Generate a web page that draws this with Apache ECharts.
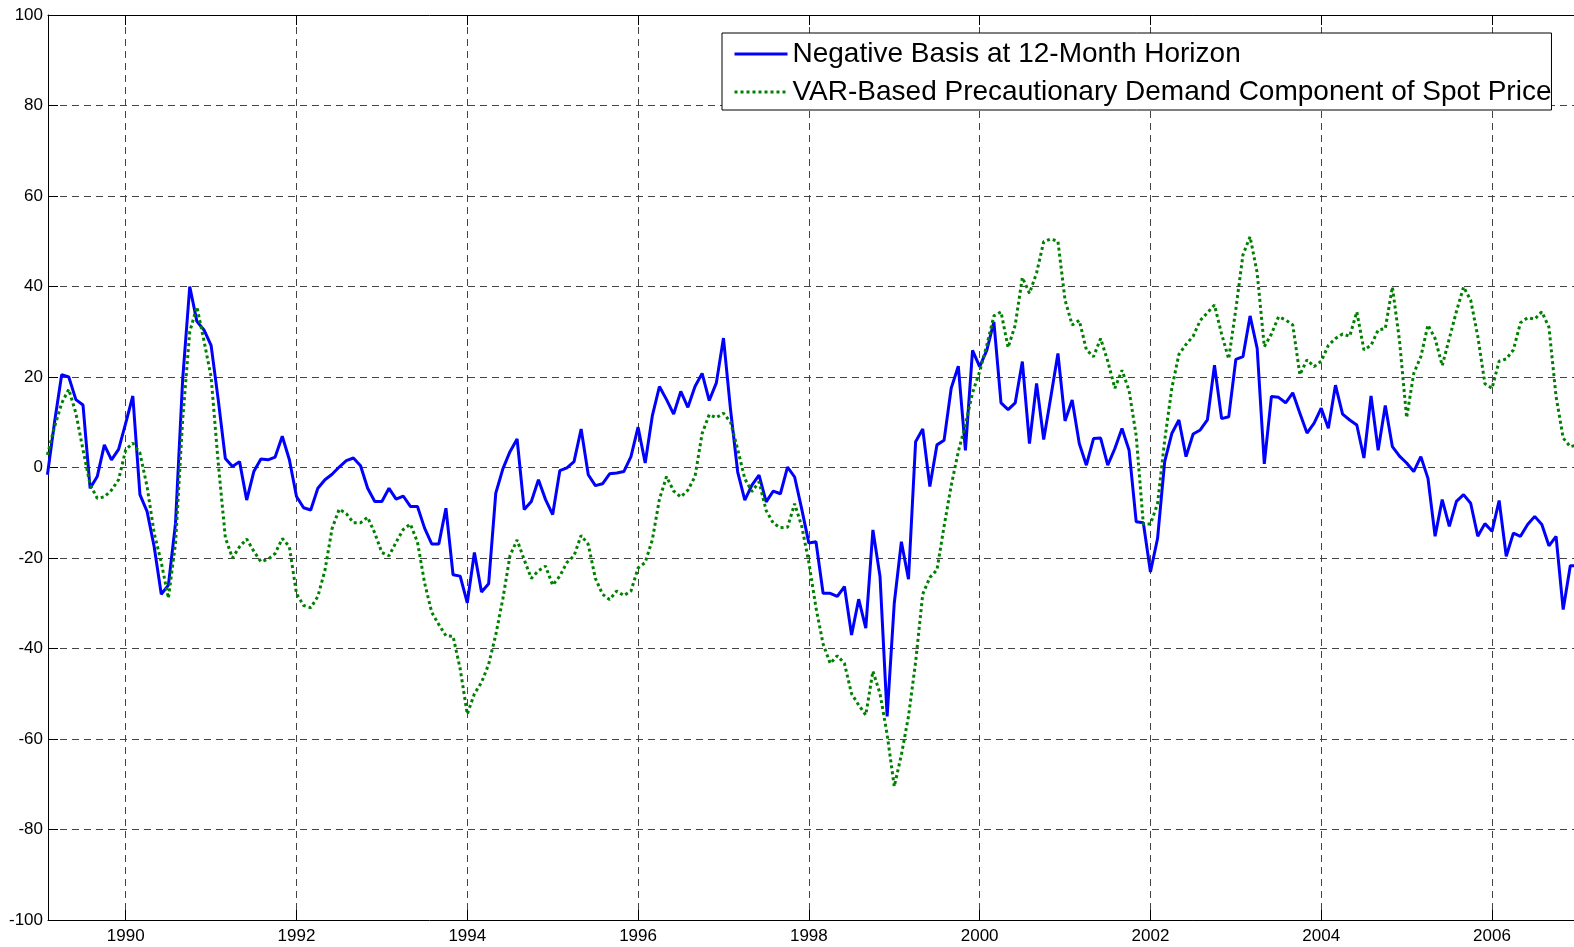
<!doctype html>
<html>
    <head>
        <meta charset="utf-8">
        <title>Negative Basis vs Precautionary Demand</title>
        <style>
            html, body { margin: 0; padding: 0; background: #fff; }
            #main { width: 1574px; height: 947px; }
        </style>
    </head>
    <body>
        <div id="main"></div>
        <script src="https://cdn.jsdelivr.net/npm/echarts@6/dist/echarts.min.js"></script>
        <script>
            // monthly observations, first one is Feb 1989
            var startYear = 1989;
            var startMonth = 2;

            var yearTicks = [1990, 1992, 1994, 1996, 1998, 2000, 2002, 2004, 2006];
            var seriesNames = [
                'Negative Basis at 12-Month Horizon',
                'VAR-Based Precautionary Demand Component of Spot Price'
            ];

            var basis = [
                -1.6, 10, 20.5, 20, 15, 13.8, -4.6, -2, 5, 1.7, 4, 9.8,
                15.8, -6, -9.7, -17.5, -28, -26, -12.3, 19.4, 40, 32.3, 30.4, 27,
                15, 2, 0.2, 1.3, -7.2, -0.9, 1.9, 1.7, 2.3, 6.9, 1.7, -6.4,
                -8.9, -9.4, -4.6, -2.7, -1.5, 0.1, 1.5, 2.1, 0.4, -4.6, -7.5, -7.5,
                -4.6, -7, -6.3, -8.6, -8.6, -13.4, -16.9, -16.9, -9, -23.7, -24, -29.9,
                -18.8, -27.5, -25.7, -5.7, -0.3, 3.5, 6.3, -9.3, -7.5, -2.7, -7.1, -10.4,
                -0.7, -0.1, 1.3, 8.5, -1.6, -4, -3.6, -1.4, -1.2, -0.9, 2.4, 8.9,
                1, 11.4, 17.9, 15, 11.8, 16.8, 13.3, 17.9, 20.8, 14.8, 18.7, 28.6,
                12.7, -1, -7.2, -3.9, -1.7, -7.6, -5.2, -5.8, 0.1, -2.1, -9.2, -16.7,
                -16.4, -27.8, -27.8, -28.5, -26.3, -37, -29.1, -35.5, -13.8, -24.1, -55, -30,
                -16.4, -24.7, 5.7, 8.5, -4.2, 5, 6, 17.5, 22.4, 3.8, 25.9, 22.3,
                25.9, 32.2, 14.3, 12.8, 14.3, 23.4, 5.3, 18.6, 6.2, 15.6, 25.2, 10.3,
                14.9, 5.3, 0.5, 6.4, 6.5, 0.5, 4.2, 8.6, 3.8, -12, -12.2, -23.1,
                -15.7, 1.3, 7.5, 10.5, 2.4, 7.4, 8.3, 10.5, 22.6, 10.8, 11.2, 23.9,
                24.5, 33.5, 26.3, 0.8, 15.7, 15.5, 14.3, 16.5, 12, 7.6, 9.8, 13.1,
                8.7, 18.2, 11.8, 10.5, 9.4, 2.1, 15.8, 3.8, 13.7, 4.6, 2.5, 1,
                -0.9, 2.4, -2.4, -15.2, -7.1, -13, -7.5, -6, -7.9, -15.2, -12.4, -14.1,
                -7.3, -19.6, -14.5, -15.2, -12.6, -10.8, -12.6, -17.3, -15.2, -31.4, -21.7, -21.7
            ];

            var precautionary = [
                2.8, 9, 14.2, 17.3, 12, 3.9, -3.8, -6.8, -6.5, -5, -2.7, 3.9,
                5.4, 3.2, -4.2, -14.5, -21, -28.9, -16.7, 10.5, 30, 35.5, 28, 20,
                1, -15.5, -20, -17.5, -15.8, -18.5, -20.8, -20.3, -19, -15.7, -17.5, -27.9,
                -30.5, -31, -28.5, -22.7, -13.5, -9.2, -10.2, -12.2, -12.2, -11, -14.5, -18.8,
                -19.5, -16.5, -13.7, -12.5, -16.5, -25.5, -32, -34.7, -37.2, -37.3, -44.5, -54.5,
                -50, -47.5, -43.5, -37, -29, -19.5, -16, -20.4, -24.5, -22.8, -21.8, -26,
                -24, -21, -19.5, -15, -17, -24.5, -28, -29.2, -27.3, -28.3, -27.3, -22.2,
                -21, -16, -7, -2, -5.2, -6.5, -5, -2, 7.5, 11.7, 11, 12,
                10, 4, -2.5, -5.3, -3.2, -9.5, -12.3, -13.3, -13.2, -8, -13, -21,
                -31, -39, -43.3, -41.6, -43.3, -50, -52.5, -54.7, -45, -50, -59, -70.5,
                -63.5, -55, -43, -28, -24.3, -22.6, -13, -4, 3.5, 9.5, 16.5, 21.2,
                27, 33.5, 34.4, 26.5, 31.5, 42, 38.5, 43, 49.9, 50.5, 50, 37,
                31.5, 32.5, 26, 24.5, 28.5, 23.5, 17.5, 21.5, 17, 7, -12.5, -12.5,
                -8, 6, 17.5, 25, 27.2, 29, 32.5, 34.2, 35.9, 29.5, 24, 35,
                47, 51, 43, 26.7, 29.5, 33.3, 32.6, 31.5, 20.5, 23.8, 22.3, 23.5,
                27, 28.5, 29.5, 29, 34.4, 26, 27, 30.4, 30.7, 39.9, 28, 11,
                20.8, 24.5, 31.5, 28.5, 22.5, 28.5, 34.5, 39.9, 37, 29, 18.5, 17.5,
                23.5, 24, 26, 32, 33.1, 32.8, 34.4, 31, 15.7, 6.5, 4.6, 5
            ];

            function withDates(values) {
                return values.map(function (v, i) {
                    return [startYear + (startMonth - 1 + i) / 12, v];
                });
            }

            var chart = echarts.init(document.getElementById('main'));

            var labelFont = {
                fontFamily: 'Liberation Sans, Arial, sans-serif',
                fontSize: 17,
                color: '#000'
            };
            var gridLine = {
                show: true,
                lineStyle: { color: '#444', width: 1, type: [7, 5] }
            };

            chart.setOption({
                animation: false,
                backgroundColor: '#fff',
                grid: { left: 48, right: 0, top: 15, bottom: 27 },
                legend: {
                    left: 722,
                    top: 33,
                    orient: 'vertical',
                    backgroundColor: '#fff',
                    borderColor: '#000',
                    borderWidth: 1,
                    borderRadius: 0,
                    padding: [6, 0, 3, 11],
                    itemGap: 8,
                    itemWidth: 53,
                    itemHeight: 14,
                    itemStyle: { opacity: 0 },
                    lineStyle: { width: 3 },
                    textStyle: {
                        fontFamily: 'Liberation Sans, Arial, sans-serif',
                        fontSize: 28,
                        lineHeight: 30,
                        color: '#000'
                    },
                    data: seriesNames
                },
                xAxis: [{
                    type: 'value',
                    min: 1989.09,
                    max: 2006.96,
                    axisLine: { show: true, onZero: false, lineStyle: { color: '#000', width: 1 } },
                    axisTick: {
                        show: true, inside: true, length: 10,
                        customValues: yearTicks,
                        lineStyle: { color: '#000' }
                    },
                    axisLabel: Object.assign({
                        margin: 8,
                        customValues: yearTicks,
                        formatter: function (v) { return String(Math.round(v)); }
                    }, labelFont),
                    splitLine: gridLine
                }, {
                    type: 'value',
                    position: 'top',
                    min: 1989.09,
                    max: 2006.96,
                    axisLine: { show: true, onZero: false, lineStyle: { color: '#000', width: 1 } },
                    axisTick: {
                        show: true, inside: true, length: 10,
                        customValues: yearTicks,
                        lineStyle: { color: '#000' }
                    },
                    axisLabel: { show: false },
                    splitLine: { show: false }
                }],
                yAxis: {
                    type: 'value',
                    min: -100,
                    max: 100,
                    interval: 20,
                    axisLine: { show: true, onZero: false, lineStyle: { color: '#000', width: 1 } },
                    axisTick: { show: true, inside: true, length: 10, lineStyle: { color: '#000' } },
                    axisLabel: Object.assign({ margin: 5 }, labelFont),
                    splitLine: gridLine
                },
                series: [{
                    name: seriesNames[0],
                    type: 'line',
                    data: withDates(basis),
                    symbol: 'none',
                    clip: true,
                    lineStyle: { color: '#0000ff', width: 3 },
                    itemStyle: { color: '#0000ff' },
                    z: 3
                }, {
                    name: seriesNames[1],
                    type: 'line',
                    data: withDates(precautionary),
                    symbol: 'none',
                    clip: true,
                    lineStyle: { color: '#008000', width: 3, type: [3, 3] },
                    itemStyle: { color: '#008000' },
                    z: 4
                }]
            });

            window.onresize = chart.resize;
        </script>
    </body>
</html>
